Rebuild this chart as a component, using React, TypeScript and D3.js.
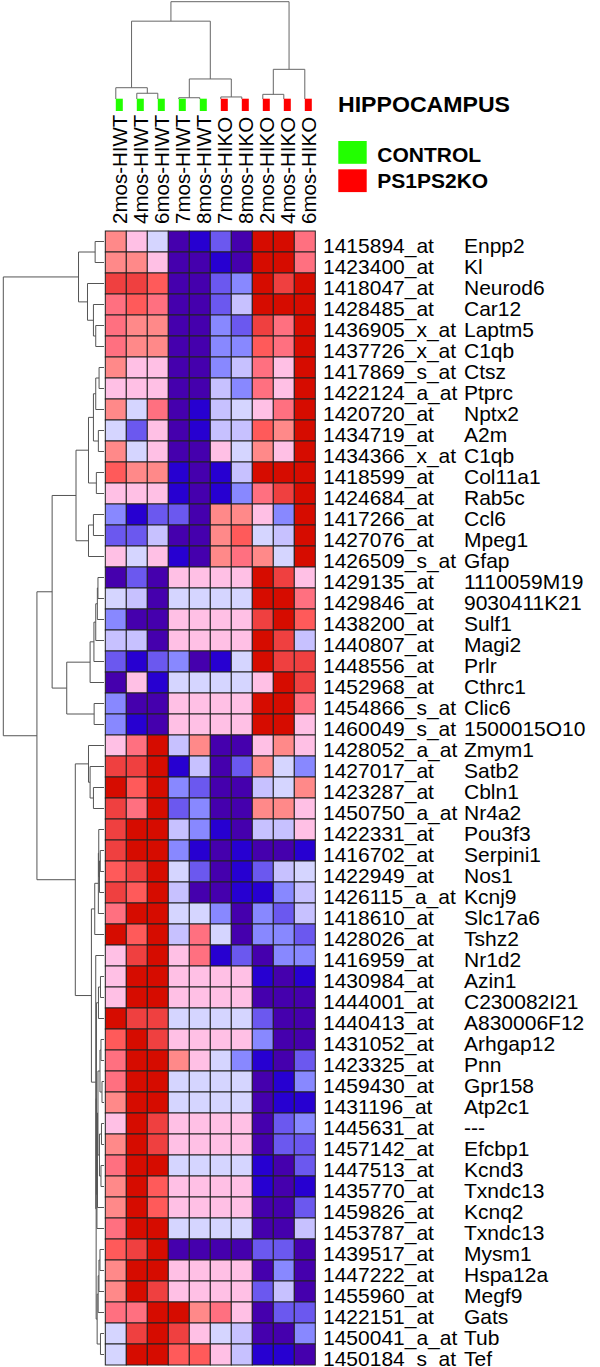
import React from "react";
import * as d3 from "d3";

const columns = [
  "2mos-HIWT", "4mos-HIWT", "6mos-HIWT", "7mos-HIWT", "8mos-HIWT",
  "7mos-HIKO", "8mos-HIKO", "2mos-HIKO", "4mos-HIKO", "6mos-HIKO",
];
const columnGroups = [
  "CONTROL", "CONTROL", "CONTROL", "CONTROL", "CONTROL",
  "PS1PS2KO", "PS1PS2KO", "PS1PS2KO", "PS1PS2KO", "PS1PS2KO",
];
const groupNames = ["CONTROL", "PS1PS2KO"];
const groupColors = ["#22FF00", "#FF0000"];
const title = "HIPPOCAMPUS";

const probes = [
  "1415894_at", "1423400_at", "1418047_at", "1428485_at", "1436905_x_at", "1437726_x_at",
  "1417869_s_at", "1422124_a_at", "1420720_at", "1434719_at", "1434366_x_at", "1418599_at",
  "1424684_at", "1417266_at", "1427076_at", "1426509_s_at", "1429135_at", "1429846_at",
  "1438200_at", "1440807_at", "1448556_at", "1452968_at", "1454866_s_at", "1460049_s_at",
  "1428052_a_at", "1427017_at", "1423287_at", "1450750_a_at", "1422331_at", "1416702_at",
  "1422949_at", "1426115_a_at", "1418610_at", "1428026_at", "1416959_at", "1430984_at",
  "1444001_at", "1440413_at", "1431052_at", "1423325_at", "1459430_at", "1431196_at",
  "1445631_at", "1457142_at", "1447513_at", "1435770_at", "1459826_at", "1453787_at",
  "1439517_at", "1447222_at", "1455960_at", "1422151_at", "1450041_a_at", "1450184_s_at",
];
const genes = [
  "Enpp2", "Kl", "Neurod6", "Car12", "Laptm5", "C1qb",
  "Ctsz", "Ptprc", "Nptx2", "A2m", "C1qb", "Col11a1",
  "Rab5c", "Ccl6", "Mpeg1", "Gfap", "1110059M19", "9030411K21",
  "Sulf1", "Magi2", "Prlr", "Cthrc1", "Clic6", "1500015O10",
  "Zmym1", "Satb2", "Cbln1", "Nr4a2", "Pou3f3", "Serpini1",
  "Nos1", "Kcnj9", "Slc17a6", "Tshz2", "Nr1d2", "Azin1",
  "C230082I21", "A830006F12", "Arhgap12", "Pnn", "Gpr158", "Atp2c1",
  "---", "Efcbp1", "Kcnd3", "Txndc13", "Kcnq2", "Txndc13",
  "Mysm1", "Hspa12a", "Megf9", "Gats", "Tub", "Tef",
];

// colour level of each cell (0 = lowest / dark blue ... 11 = highest / dark red)
const levels: number[][] = [
  [7, 6, 5, 0, 1, 2, 0, 11, 11, 8],
  [7, 7, 6, 0, 0, 1, 0, 11, 11, 8],
  [10, 10, 9, 0, 0, 2, 3, 11, 10, 11],
  [8, 9, 8, 0, 0, 2, 4, 11, 11, 11],
  [8, 7, 7, 0, 0, 3, 2, 10, 8, 11],
  [8, 7, 7, 0, 0, 3, 3, 9, 8, 11],
  [7, 6, 6, 0, 0, 3, 4, 8, 6, 11],
  [6, 6, 6, 0, 0, 4, 3, 8, 6, 11],
  [7, 5, 8, 0, 1, 4, 5, 6, 8, 11],
  [5, 2, 6, 0, 1, 4, 4, 9, 7, 11],
  [7, 5, 6, 0, 0, 6, 5, 7, 6, 11],
  [9, 7, 7, 1, 0, 1, 4, 11, 11, 11],
  [6, 6, 6, 1, 0, 1, 3, 8, 10, 11],
  [3, 1, 2, 2, 0, 7, 7, 6, 3, 11],
  [2, 2, 4, 0, 0, 7, 9, 5, 4, 11],
  [6, 5, 6, 1, 0, 7, 8, 7, 5, 11],
  [0, 2, 0, 6, 6, 6, 6, 11, 10, 6],
  [5, 4, 0, 5, 5, 5, 5, 11, 11, 8],
  [3, 0, 0, 6, 6, 6, 6, 10, 11, 9],
  [4, 4, 0, 6, 6, 6, 6, 11, 10, 4],
  [2, 1, 2, 3, 0, 1, 5, 11, 10, 10],
  [0, 6, 1, 5, 5, 5, 5, 6, 11, 10],
  [3, 0, 0, 6, 6, 6, 6, 11, 11, 8],
  [3, 1, 0, 6, 6, 6, 6, 11, 11, 6],
  [6, 8, 11, 4, 7, 0, 0, 6, 7, 6],
  [10, 10, 11, 1, 4, 0, 2, 7, 5, 3],
  [11, 9, 11, 3, 2, 0, 0, 4, 5, 7],
  [10, 8, 11, 2, 3, 0, 0, 7, 7, 6],
  [10, 11, 11, 4, 3, 1, 0, 4, 4, 6],
  [10, 11, 11, 3, 1, 0, 1, 0, 0, 1],
  [9, 10, 11, 5, 2, 0, 1, 2, 4, 5],
  [10, 9, 11, 4, 0, 0, 1, 1, 3, 4],
  [8, 11, 11, 5, 5, 3, 0, 3, 2, 4],
  [11, 9, 11, 4, 8, 5, 0, 3, 3, 2],
  [6, 10, 11, 6, 8, 1, 2, 0, 3, 3],
  [6, 11, 11, 6, 6, 6, 6, 1, 0, 1],
  [6, 11, 11, 6, 6, 6, 6, 0, 0, 0],
  [11, 10, 10, 5, 5, 5, 5, 2, 0, 0],
  [9, 11, 10, 6, 6, 6, 6, 3, 0, 0],
  [8, 11, 11, 7, 6, 5, 3, 1, 0, 2],
  [8, 11, 11, 5, 5, 5, 5, 0, 1, 3],
  [7, 11, 11, 5, 5, 5, 5, 0, 1, 1],
  [6, 11, 10, 6, 6, 6, 6, 0, 2, 3],
  [7, 11, 10, 6, 6, 6, 6, 0, 2, 2],
  [8, 11, 11, 5, 5, 5, 5, 1, 0, 2],
  [7, 11, 9, 6, 6, 6, 6, 1, 0, 1],
  [7, 11, 9, 6, 6, 6, 6, 0, 0, 2],
  [8, 11, 11, 5, 5, 5, 5, 0, 0, 4],
  [9, 10, 11, 0, 0, 0, 0, 2, 2, 0],
  [7, 11, 11, 6, 6, 6, 6, 0, 3, 0],
  [7, 11, 10, 6, 6, 6, 6, 2, 4, 0],
  [8, 8, 11, 11, 7, 8, 6, 0, 2, 2],
  [5, 10, 11, 10, 6, 5, 4, 0, 0, 3],
  [5, 11, 11, 9, 9, 6, 4, 1, 1, 0],
];

const palette = [
  "#4500AD", "#2700D1", "#6B58EF", "#8888FF", "#C7C1FF", "#D5D5FF",
  "#FFC0E5", "#FF8989", "#FF7080", "#FF5A5A", "#EF4040", "#D60C00",
];

type Ref = number | string; // number = leaf index, "mK" = merge K
// column dendrogram merges: [left, right, height]
const colMerges: [Ref, Ref, number][] = [
  [1, 2, 0.059],
  [0, "m0", 0.116],
  [3, 4, 0.013],
  [5, 6, 0.021],
  ["m2", "m3", 0.206],
  ["m1", "m4", 0.8],
  [7, 8, 0.048],
  ["m6", 9, 0.305],
  ["m5", "m7", 1.0],
];

// row dendrogram merges: [left, right, height]
const rowMerges: [Ref, Ref, number][] = [
  [0, 1, 0.088],
  [4, 5, 0.082],
  [3, "m1", 0.105],
  [2, "m2", 0.164],
  ["m0", "m3", 0.253],
  [6, 7, 0.049],
  ["m5", 8, 0.082],
  [9, 10, 0.056],
  ["m6", "m7", 0.105],
  [11, 12, 0.076],
  ["m8", "m9", 0.154],
  [13, 14, 0.105],
  ["m11", 15, 0.154],
  ["m10", "m12", 0.278],
  [16, 17, 0.06],
  ["m14", 18, 0.066],
  ["m15", 19, 0.082],
  ["m16", 20, 0.1],
  ["m17", 21, 0.138],
  [22, 23, 0.098],
  ["m18", "m19", 0.37],
  ["m13", "m20", 0.515],
  [26, 27, 0.105],
  [25, "m22", 0.138],
  [24, "m23", 0.154],
  [29, 30, 0.037],
  ["m25", 31, 0.045],
  [28, "m26", 0.052],
  ["m27", 32, 0.056],
  ["m28", 33, 0.092],
  [35, 36, 0.035],
  ["m30", 37, 0.055],
  [38, 39, 0.03],
  [40, 41, 0.02],
  ["m32", "m33", 0.04],
  [42, 43, 0.025],
  [44, 45, 0.03],
  ["m35", "m36", 0.045],
  ["m34", "m37", 0.06],
  ["m38", 46, 0.065],
  ["m39", 47, 0.07],
  ["m31", "m40", 0.075],
  [48, 49, 0.04],
  ["m42", 50, 0.05],
  ["m43", 51, 0.058],
  [52, 53, 0.035],
  ["m44", "m45", 0.068],
  ["m41", "m46", 0.078],
  [34, "m47", 0.082],
  ["m29", "m48", 0.125],
  ["m24", "m49", 0.285],
  ["m21", "m50", 0.666],
  ["m4", "m51", 1.0],
];

function dendroSegments(
  merges: [Ref, Ref, number][],
  leafPos: (i: number) => number
) {
  const pos: number[] = [];
  const hgt: number[] = [];
  const get = (r: Ref): [number, number] => {
    if (typeof r === "number") return [leafPos(r), 0];
    const k = +r.slice(1);
    return [pos[k], hgt[k]];
  };
  const segs: { pa: number; ha: number; pb: number; hb: number; h: number }[] = [];
  merges.forEach(([a, b, h], k) => {
    const [pa, ha] = get(a);
    const [pb, hb] = get(b);
    pos[k] = (pa + pb) / 2;
    hgt[k] = h;
    segs.push({ pa, ha, pb, hb, h });
  });
  return segs;
}

const FONT = "'Liberation Sans', Arial, Helvetica, sans-serif";

export default function App() {
  const W = 600;
  const H = 1367;
  const x = d3
    .scaleBand<number>()
    .domain(d3.range(columns.length))
    .range([105.3, 315.3])
    .padding(0);
  const y = d3
    .scaleBand<number>()
    .domain(d3.range(probes.length))
    .range([231, 231 + 21 * probes.length])
    .padding(0);
  const color = d3.scaleQuantize<string>().domain([0, 12]).range(palette);
  const groupColor = d3.scaleOrdinal<string, string>().domain(groupNames).range(groupColors);

  const colH = d3.scaleLinear().domain([0, 1]).range([99, 1.7]);
  const rowH = d3.scaleLinear().domain([0, 1]).range([104, 3.3]);

  const colCenter = (i: number) => (x(i) as number) + x.bandwidth() / 2;
  const rowCenter = (i: number) => (y(i) as number) + y.bandwidth() / 2;

  const colSegs = dendroSegments(colMerges, colCenter);
  const rowSegs = dendroSegments(rowMerges, rowCenter);

  return (
    <svg
      width={W}
      height={H}
      style={{ position: "absolute", left: 0, top: 0, display: "block", background: "#fff" }}
      fontFamily={FONT}
    >
      <rect x={0} y={0} width={W} height={H} fill="#fff" />
      {/* column dendrogram */}
      <g fill="none" stroke="#666" strokeWidth={1}>
        {colSegs.map((s, i) => (
          <path
            key={i}
            d={`M${s.pa},${colH(s.ha)}V${colH(s.h)}H${s.pb}V${colH(s.hb)}`}
          />
        ))}
      </g>
      {/* row dendrogram */}
      <g fill="none" stroke="#555" strokeWidth={1}>
        {rowSegs.map((s, i) => (
          <path
            key={i}
            d={`M${rowH(s.ha)},${s.pa}H${rowH(s.h)}V${s.pb}H${rowH(s.hb)}`}
          />
        ))}
      </g>
      {/* group markers */}
      {columns.map((c, i) => (
        <rect
          key={c}
          x={colCenter(i)}
          y={98.7}
          width={7}
          height={12.3}
          fill={groupColor(columnGroups[i])}
        />
      ))}
      {/* column labels */}
      {columns.map((c, i) => (
        <text
          key={c}
          transform={`translate(${colCenter(i) + 11},224) rotate(-90)`}
          fontSize={20.5}
          fill="#000"
        >
          {c}
        </text>
      ))}
      {/* heatmap */}
      <g stroke="#222" strokeWidth={1}>
        {levels.map((row, r) =>
          row.map((v, c) => (
            <rect
              key={`${r}-${c}`}
              x={x(c)}
              y={y(r)}
              width={x.bandwidth()}
              height={y.bandwidth()}
              fill={color(v)}
            />
          ))
        )}
      </g>
      {/* row labels */}
      <g fontSize={21} fill="#000">
        {probes.map((p, i) => (
          <text key={i} x={323} y={rowCenter(i) + 11}>
            {p}
          </text>
        ))}
        {genes.map((g, i) => (
          <text key={i} x={464} y={rowCenter(i) + 11}>
            {g}
          </text>
        ))}
      </g>
      {/* legend */}
      <text x={338} y={112} fontSize={22} fontWeight="bold" textLength={172} lengthAdjust="spacingAndGlyphs">
        {title}
      </text>
      {groupNames.map((g, i) => (
        <g key={g}>
          <rect x={338.3} y={141 + i * 28.3} width={28.4} height={22.8} fill={groupColors[i]} />
          <text x={377.3} y={161.7 + i * 25.8} fontSize={21} fontWeight="bold">
            {g}
          </text>
        </g>
      ))}
    </svg>
  );
}
